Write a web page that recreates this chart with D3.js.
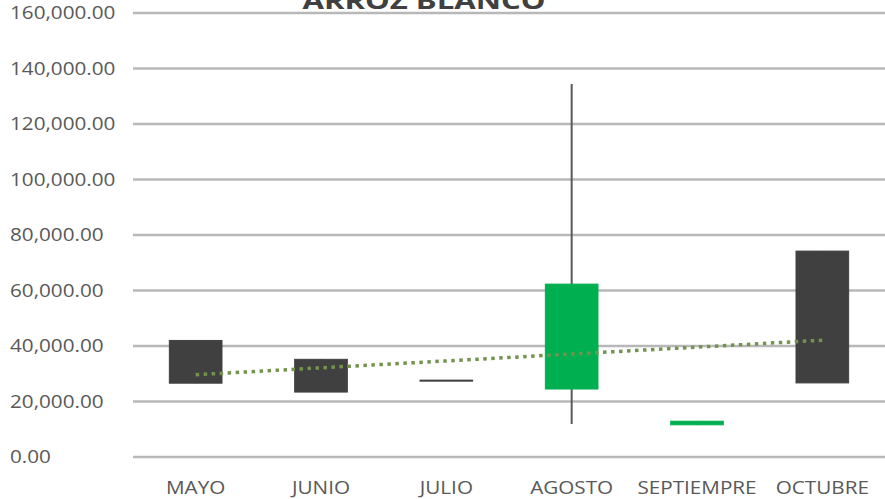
<!DOCTYPE html>
<html>
<head>
  <meta charset="utf-8">
  <script src="https://d3js.org/d3.v7.min.js"></script>
  <style>
    body { margin: 0; background: #fff; }
    text { font-family: "Open Sans", sans-serif; fill: #595959; }
  </style>
</head>
<body>
<div id="chart"></div>
<script>
(function(d3) {
  'use strict';

  // monthly open / high / low / close
  var months = ['MAYO', 'JUNIO', 'JULIO', 'AGOSTO', 'SEPTIEMPRE', 'OCTUBRE'];
  var openVals  = [42000, 35200, 27700, 24500, 11600, 74200];
  var highVals  = [42000, 35200, 27700, 134400, 12900, 74200];
  var lowVals   = [26600, 23400, 27700, 11900, 11600, 26700];
  var closeVals = [26600, 23400, 27700, 62300, 12900, 26700];
  var yTicks = [0, 20000, 40000, 60000, 80000, 100000, 120000, 140000, 160000];

  var width = 885, height = 499;
  var margin = { top: 13, right: 0, bottom: 42, left: 133 };

  var svg = d3.select('#chart').append('svg')
    .attr('width', width)
    .attr('height', height);

  var x = d3.scaleBand()
    .domain(months)
    .range([margin.left, width - margin.right])
    .paddingInner(0.58)
    .paddingOuter(0.29);

  var y = d3.scaleLinear()
    .domain([0, 160000])
    .range([height - margin.bottom, margin.top]);

  var fmt = d3.format(',.2f');

  // gridlines
  svg.append('g').selectAll('line')
    .data(yTicks)
    .enter().append('line')
    .attr('x1', margin.left)
    .attr('x2', width - margin.right)
    .attr('y1', function(d) { return y(d); })
    .attr('y2', function(d) { return y(d); })
    .attr('stroke', '#b8b8b8')
    .attr('stroke-width', 2.5);

  // y labels (left aligned)
  svg.append('g').selectAll('text')
    .data(yTicks)
    .enter().append('text')
    .attr('transform', function(d) { return 'translate(10,' + (y(d) + 6) + ') scale(1.15,1)'; })
    .style('font-size', '18px')
    .text(function(d) { return fmt(d); });

  // x labels
  svg.append('g').selectAll('text')
    .data(months)
    .enter().append('text')
    .attr('transform', function(d) {
      return 'translate(' + (x(d) + x.bandwidth() / 2) + ',' + 494 + ') scale(1.15,1)';
    })
    .attr('text-anchor', 'middle')
    .style('font-size', '18px')
    .text(function(d) { return d; });

  var data = months.map(function(m, i) {
    return { m: m, o: openVals[i], h: highVals[i], l: lowVals[i], c: closeVals[i] };
  });

  // wicks
  svg.append('g').selectAll('line')
    .data(data)
    .enter().append('line')
    .attr('x1', function(d) { return x(d.m) + x.bandwidth() / 2; })
    .attr('x2', function(d) { return x(d.m) + x.bandwidth() / 2; })
    .attr('y1', function(d) { return y(d.h); })
    .attr('y2', function(d) { return y(d.l); })
    .attr('stroke', '#595959')
    .attr('stroke-width', 2);

  // bodies
  svg.append('g').selectAll('rect')
    .data(data)
    .enter().append('rect')
    .attr('x', function(d) { return x(d.m); })
    .attr('width', x.bandwidth())
    .attr('y', function(d) { return y(Math.max(d.o, d.c)); })
    .attr('height', function(d) { return Math.max(1, y(Math.min(d.o, d.c)) - y(Math.max(d.o, d.c))); })
    .attr('fill', function(d) { return d.c > d.o ? '#00b050' : '#404040'; })
    .attr('stroke', function(d) { return d.c > d.o ? '#00b050' : '#404040'; })
    .attr('stroke-width', 1);

  // linear trend on opening values
  var n = openVals.length;
  var mx = d3.mean(d3.range(n));
  var my = d3.mean(openVals);
  var sxy = d3.sum(openVals, function(v, i) { return (i - mx) * (v - my); });
  var sxx = d3.sum(d3.range(n), function(i) { return (i - mx) * (i - mx); });
  var slope = sxy / sxx;
  var icpt = my - slope * mx;

  var trend = d3.line()
    .x(function(d) { return x(months[d]) + x.bandwidth() / 2; })
    .y(function(d) { return y(icpt + slope * d); });

  svg.append('path')
    .datum([0, n - 1])
    .attr('d', trend)
    .attr('fill', 'none')
    .attr('stroke', '#74934f')
    .attr('stroke-width', 3.5)
    .attr('stroke-dasharray', '3.5,4.5');

  // title, mostly cut off at the top
  svg.append('text')
    .attr('x', 424)
    .attr('y', 9)
    .attr('text-anchor', 'middle')
    .attr('textLength', 243)
    .attr('lengthAdjust', 'spacingAndGlyphs')
    .style('font-size', '24px')
    .style('font-weight', 'bold')
    .style('fill', '#404040')
    .text('ARROZ BLANCO');

})(window.d3);
</script>
</body>
</html>
